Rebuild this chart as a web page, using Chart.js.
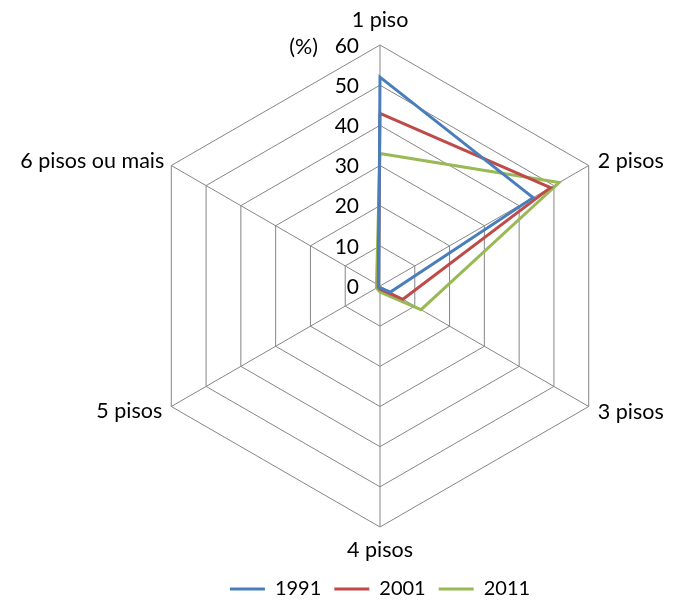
<!DOCTYPE html>
<html lang="pt">
<head>
  <meta charset="UTF-8" />
  <title>Pisos</title>
  <script src="https://cdn.jsdelivr.net/npm/chart.js"></script>
  <style>
    html, body { margin: 0; padding: 0; background: #fff; }
    #wrap { width: 678px; height: 602px; }
  </style>
</head>
<body>
  <div id="wrap"><canvas id="grafico"></canvas></div>

  <script>
    const categorias = ['1 piso', '2 pisos', '3 pisos', '4 pisos', '5 pisos', '6 pisos ou mais'];
    const anos = ['1991', '2001', '2011'];
    const v1991 = [52, 44, 3, 0.5, 0.4, 0.4];
    const v2001 = [43, 49, 6.6, 0.8, 0.5, 0.5];
    const v2011 = [33, 51.5, 11.8, 1.5, 1, 1];
    const marcas = [0, 10, 20, 30, 40, 50, 60];
    const cores = ['#4A7EBB', '#BE4B48', '#98B954'];

    const FONTE_CAT = '21.5px Lato';
    const FONTE_EIXO = '21px Lato';

    // deslocamentos dos rótulos em relação ao vértice de cada eixo
    const ajuste = [
      { dx: 0, dy: -25, align: 'center' },
      { dx: 9, dy: -4, align: 'left' },
      { dx: 9, dy: 6, align: 'left' },
      { dx: 0, dy: 23, align: 'center' },
      { dx: -9, dy: 5, align: 'right' },
      { dx: -7, dy: -4, align: 'right' }
    ];

    const rotulos = {
      id: 'rotulos',
      afterDraw(chart) {
        const s = chart.scales.r;
        const ctx = chart.ctx;
        ctx.save();
        ctx.fillStyle = '#000';
        ctx.textBaseline = 'middle';

        // valores do eixo, à esquerda do eixo vertical
        ctx.font = FONTE_EIXO;
        ctx.textAlign = 'right';
        marcas.forEach(m => {
          const p = s.getPointPositionForValue(0, m);
          ctx.fillText(String(m), p.x - 21, p.y + 1);
        });
        ctx.font = FONTE_CAT;
        const topo = s.getPointPositionForValue(0, 60);
        ctx.fillText('(%)', topo.x - 62, topo.y + 2);

        // nomes das categorias
        categorias.forEach((c, i) => {
          const p = s.getPointPosition(i, s.drawingArea);
          const a = ajuste[i];
          ctx.textAlign = a.align;
          ctx.fillText(c, p.x + a.dx, p.y + a.dy);
        });
        ctx.restore();
      }
    };

    const series = [v1991, v2001, v2011];

    new Chart(document.getElementById('grafico'), {
      type: 'radar',
      data: {
        labels: categorias,
        datasets: series.map((v, i) => ({
          label: anos[i],
          data: v,
          borderColor: cores[i],
          backgroundColor: cores[i],
          borderWidth: 3,
          pointRadius: 0,
          pointHoverRadius: 0,
          fill: false,
          tension: 0
        }))
      },
      options: {
        responsive: true,
        maintainAspectRatio: false,
        animation: false,
        layout: { padding: { left: 139, right: 57, top: 6, bottom: -7 } },
        scales: {
          r: {
            min: 0,
            max: 60,
            ticks: { stepSize: 10, display: false },
            pointLabels: { display: false },
            grid: { color: '#868686', lineWidth: 1 },
            angleLines: { color: '#868686', lineWidth: 1 }
          }
        },
        plugins: {
          tooltip: { enabled: false },
          legend: {
            position: 'bottom',
            labels: {
              font: { family: 'Lato', size: 20 },
              color: '#000',
              boxWidth: 35,
              boxHeight: 3,
              padding: 13,
              generateLabels: (chart) =>
                Chart.defaults.plugins.legend.labels.generateLabels(chart)
                  .map(l => ({ ...l, lineWidth: 0, fillStyle: l.strokeStyle }))
            }
          }
        }
      },
      plugins: [rotulos]
    });
  </script>
</body>
</html>
